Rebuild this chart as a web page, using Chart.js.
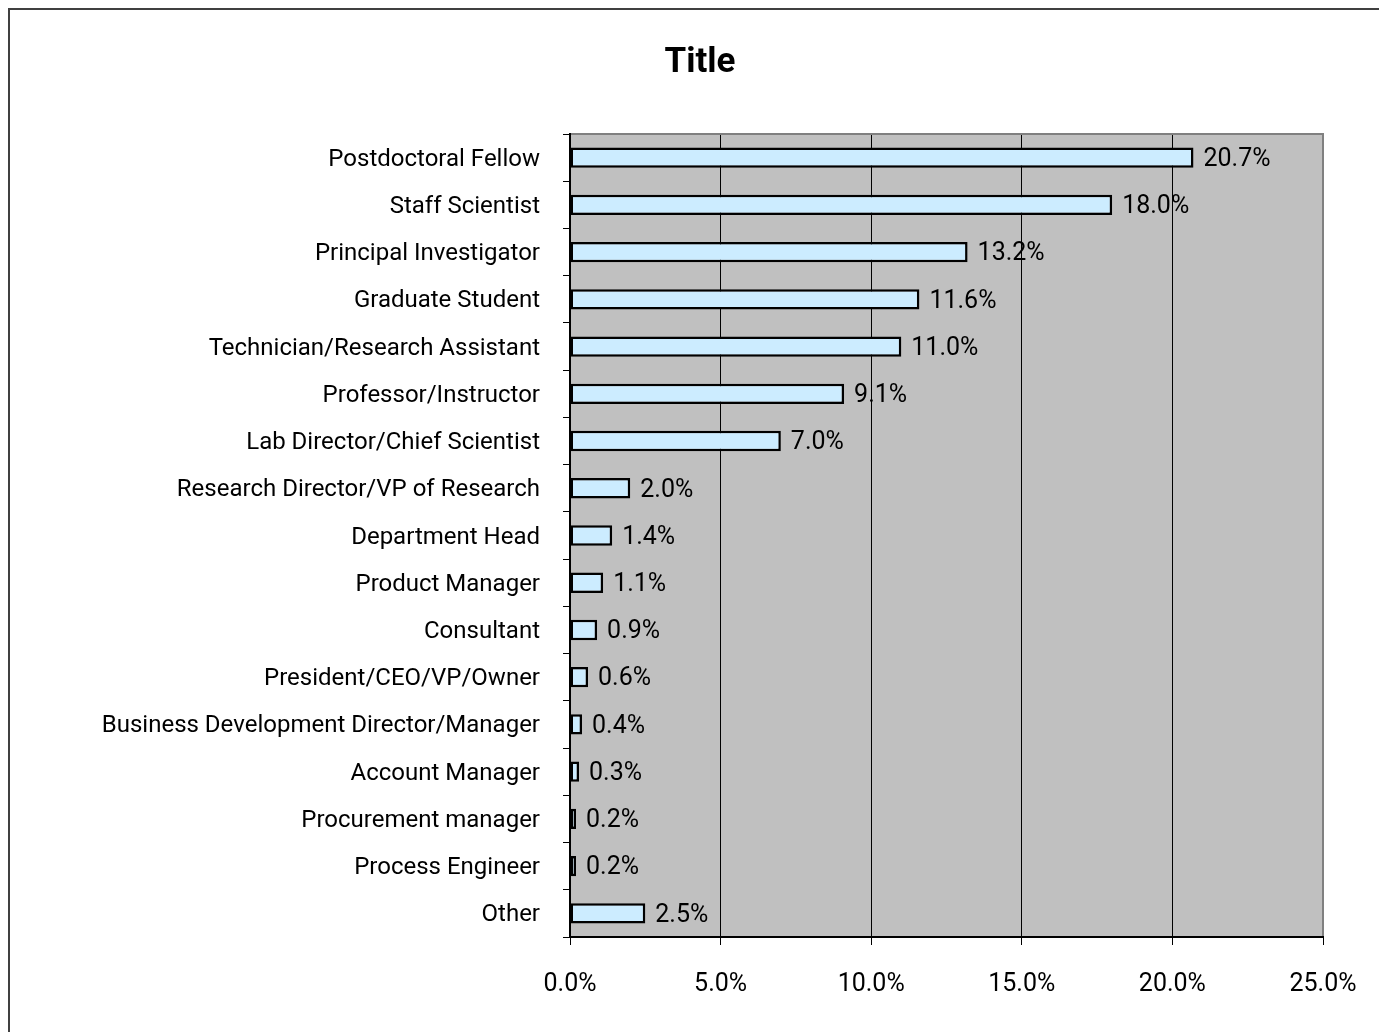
<!DOCTYPE html>
<html><head><meta charset="utf-8">
<script src="https://cdn.jsdelivr.net/npm/chart.js@4/dist/chart.umd.min.js"></script>
<style>html,body{margin:0;padding:0;background:#fff;overflow:hidden}#wrap{width:1379px;height:1032px;position:relative}canvas{display:block}</style>
</head><body><div id="wrap"><canvas id="c" width="1379" height="1032"></canvas></div>
<script>
const titleText = 'Title';
const categories = [
  'Postdoctoral Fellow',
  'Staff Scientist',
  'Principal Investigator',
  'Graduate Student',
  'Technician/Research Assistant',
  'Professor/Instructor',
  'Lab Director/Chief Scientist',
  'Research Director/VP of Research',
  'Department Head',
  'Product Manager',
  'Consultant',
  'President/CEO/VP/Owner',
  'Business Development Director/Manager',
  'Account Manager',
  'Procurement manager',
  'Process Engineer',
  'Other'
];
const values = [20.7, 18.0, 13.2, 11.6, 11.0, 9.1, 7.0, 2.0, 1.4, 1.1, 0.9, 0.6, 0.4, 0.3, 0.2, 0.2, 2.5];
const xTickValues = [0, 5, 10, 15, 20, 25];
const fmt = v => Number(v).toFixed(1) + '%';

const FONT = 'Roboto';

const frame = {
  id: 'frame',
  beforeDraw(chart) {
    const c = chart.ctx, a = chart.chartArea;
    c.save();
    c.fillStyle = '#fff';
    c.fillRect(0, 0, chart.width, chart.height);
    c.strokeStyle = '#404040';
    c.lineWidth = 2;
    c.strokeRect(9, 9, chart.width + 20, chart.height + 20);
    c.fillStyle = '#C0C0C0';
    c.fillRect(a.left, a.top, a.right - a.left, a.bottom - a.top);
    c.restore();
  },
  afterDraw(chart) {
    const c = chart.ctx, a = chart.chartArea;
    c.save();
    c.strokeStyle = '#808080';
    c.lineWidth = 2;
    c.beginPath();
    c.moveTo(a.left + 1, a.top);
    c.lineTo(a.right, a.top);
    c.lineTo(a.right, a.bottom - 1);
    c.stroke();
    c.restore();
  }
};

const valueLabels = {
  id: 'valueLabels',
  afterDatasetsDraw(chart) {
    const c = chart.ctx;
    const meta = chart.getDatasetMeta(0);
    c.save();
    c.font = '25px ' + FONT;
    c.fillStyle = '#000';
    c.textAlign = 'left';
    c.textBaseline = 'middle';
    meta.data.forEach((bar, i) => {
      c.fillText(fmt(values[i]), bar.x + 10, bar.y + 2);
    });
    c.restore();
  }
};

new Chart(document.getElementById('c'), {
  type: 'bar',
  data: {
    labels: categories,
    datasets: [{
      data: values,
      backgroundColor: '#CCECFF',
      borderColor: '#000',
      borderWidth: 2.5,
      borderSkipped: false,
      barPercentage: 0.43,
      categoryPercentage: 1.0
    }]
  },
  options: {
    indexAxis: 'y',
    responsive: false,
    animation: false,
    devicePixelRatio: 1,
    layout: { padding: { left: 77, right: 56, top: 23, bottom: 0 } },
    plugins: {
      legend: { display: false },
      tooltip: { enabled: false },
      title: {
        display: true,
        text: titleText,
        color: '#000',
        font: { family: FONT, size: 35, weight: 'bold', lineHeight: 1.2 },
        padding: { top: 19, bottom: 50 }
      }
    },
    scales: {
      x: {
        min: 0, max: 25,
        afterBuildTicks(scale) { scale.ticks = xTickValues.map(v => ({ value: v })); },
        afterFit(scale) { scale.height = 95; scale.paddingRight = 0; scale.paddingLeft = 0; },
        grid: {
          color: ctx => (ctx.tick && ctx.tick.value === 25) ? '#808080' : '#000',
          tickColor: '#000',
          lineWidth: 1,
          tickLength: 8,
          drawTicks: true
        },
        border: { color: '#000', width: 2 },
        ticks: {
          color: '#000',
          padding: 25,
          maxRotation: 0,
          font: { family: FONT, size: 25 },
          callback: v => fmt(v)
        }
      },
      y: {
        afterFit(scale) { scale.width = 493; },
        grid: {
          drawOnChartArea: false,
          offset: true,
          tickColor: '#000',
          tickLength: 7,
          drawTicks: true
        },
        border: { color: '#000', width: 2 },
        ticks: {
          color: '#000',
          padding: 23,
          labelOffset: 2,
          autoSkip: false,
          font: { family: FONT, size: 24 }
        }
      }
    }
  },
  plugins: [frame, valueLabels]
});
</script>
</body></html>
